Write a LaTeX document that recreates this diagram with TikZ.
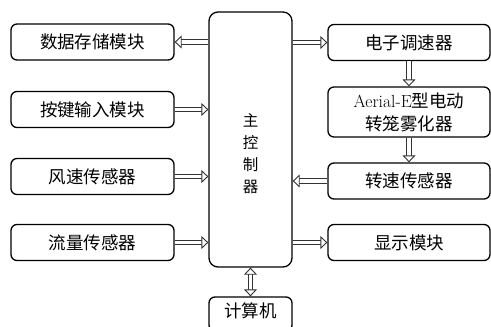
\documentclass[tikz,border=0pt]{standalone}
\usepackage{fontspec}
\newfontfamily\cjk{Noto Sans CJK SC}
\usetikzlibrary{arrows.meta}
\begin{document}
\begin{tikzpicture}[x=1pt,y=-1pt,
  blk/.style={draw,line width=1.3pt,rounded corners=6pt,inner sep=0pt,font=\cjk\fontsize{17.5}{21}\selectfont,align=center},
  lbox/.style={blk,minimum width=163pt,minimum height=36pt},
  rbox/.style={blk,minimum width=162pt,minimum height=36pt},
  tip/.tip={Triangle[open,fill=white,length=7pt,width=13pt,line width=0.9pt,line join=miter]},
  dar/.style={draw=black!80,double=white,double distance=3.6pt,line width=0.9pt,-tip},
  ddar/.style={draw=black!80,double=white,double distance=3.6pt,line width=0.9pt,tip-tip}]
\useasboundingbox (0,0) rectangle (491,327);
\node[blk,minimum width=83pt,minimum height=255pt,rounded corners=9pt] (ctrl) at (250.5,139.5) {};
\node[font=\cjk\fontsize{15.5}{22}\selectfont,align=center,inner sep=0pt] (ctrltext) at (250.5,154) {主\\控\\制\\器};
\node[lbox] (store) at (92.5,42) {数据存储模块};
\node[lbox] (key) at (92.5,109.5) {按键输入模块};
\node[lbox] (wind) at (92.5,176.5) {风速传感器};
\node[lbox] (flow) at (92.5,242.5) {流量传感器};
\node[rbox] (esc) at (409,42.5) {电子调速器};
\node[rbox,minimum height=50pt,font=\fontsize{17.5}{23}\selectfont] (atom) at (409,112) {Aerial-E{\cjk 型电动}\\{\cjk 转笼雾化器}};
\node[rbox] (rpm) at (409,181) {转速传感器};
\node[rbox] (disp) at (409,242.5) {显示模块};
\node[blk,minimum width=83pt,minimum height=34pt] (pc) at (250.5,314) {};
\node[font=\cjk\fontsize{17.5}{21}\selectfont,inner sep=0pt] (pctext) at (250.5,310.5) {计算机};
\draw[dar] (ctrl.west |- store.east) -- (store.east);
\draw[dar] (key.east) -- (ctrl.west |- key.east);
\draw[dar] (wind.east) -- (ctrl.west |- wind.east);
\draw[dar] (flow.east) -- (ctrl.west |- flow.east);
\draw[dar] (ctrl.east |- esc.west) -- (esc.west);
\draw[dar] (esc.south) -- (atom.north);
\draw[dar] (atom.south) -- (rpm.north);
\draw[dar] (rpm.west) -- (ctrl.east |- rpm.west);
\draw[dar] (ctrl.east |- disp.west) -- (disp.west);
\draw[ddar] (ctrl.south) -- (pc.north);
\end{tikzpicture}
\end{document}
